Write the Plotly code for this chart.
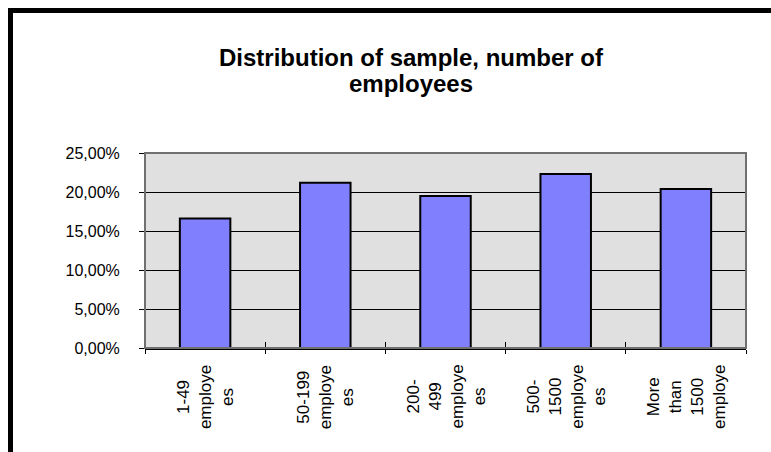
import plotly.graph_objects as go

categories = ["1-49<br>employe<br>es", "50-199<br>employe<br>es", "200-<br>499<br>employe<br>es",
              "500-<br>1500<br>employe<br>es", "More<br>than<br>1500<br>employe"]
shares = [0.166, 0.212, 0.195, 0.223, 0.204]
y_ticks = [0, 0.05, 0.10, 0.15, 0.20, 0.25]
title_lines = ["Distribution of sample, number of", "employees"]

W, H = 771, 452
L, R, T, B = 145, 746, 153, 348

def px(x):
    return (x - L) / (R - L)

def py(y):
    return (B - y) / (B - T)

FONT = "Liberation Sans, Arial"

fig = go.Figure()
fig.add_trace(go.Bar(x=categories, y=shares, width=0.42,
                     marker=dict(color="#8080FF", line=dict(color="black", width=2)),
                     hoverinfo="skip"))
fig.add_trace(go.Scatter(x=categories, y=shares, mode="none", xaxis="x2", yaxis="y",
                         hoverinfo="skip", showlegend=False))

annotations = []
for i, line in enumerate(title_lines):
    annotations.append(dict(text=line, xref="paper", yref="paper", x=px(411), y=py(58 + 26 * i),
                            xanchor="center", yanchor="middle", showarrow=False,
                            font=dict(size=24, family=FONT, color="black", weight="bold")))
for c in categories:
    annotations.append(dict(text=c, xref="x", yref="paper", x=c, y=py(397),
                            xanchor="center", yanchor="middle", showarrow=False,
                            textangle=-90, align="center",
                            font=dict(size=17, family=FONT, color="black")))

fig.update_layout(
    width=W, height=H,
    margin=dict(l=L, r=W - R, t=T, b=H - B),
    paper_bgcolor="white", plot_bgcolor="#E0E0E0",
    showlegend=False,
    separators=", ",
    font=dict(family=FONT, color="black"),
    annotations=annotations,
    xaxis=dict(type="category", range=[-0.5, 4.5], tickson="boundaries", ticks="outside",
               ticklen=4, tickcolor="black", tickwidth=1, showgrid=False,
               showticklabels=False,
               showline=True, linecolor="black", linewidth=1.5),
    xaxis2=dict(type="category", range=[-0.5, 4.5], overlaying="x", anchor="y", side="bottom",
                tickson="boundaries", ticks="inside", ticklen=6, tickcolor="black", tickwidth=1,
                showticklabels=False, showgrid=False, showline=False),
    yaxis=dict(range=[0, 0.25], tickvals=y_ticks, tickformat=".2%", ticks="outside", ticklen=5,
               tickcolor="black", showgrid=True, gridcolor="black", gridwidth=1,
               zeroline=False, showline=False, ticklabelstandoff=16,
               tickfont=dict(size=16, family=FONT, color="black")),
    shapes=[
        dict(type="rect", xref="paper", yref="paper", x0=0, x1=1, y0=0, y1=1,
             line=dict(color="#707070", width=2), layer="above"),
        dict(type="rect", xref="paper", yref="paper", x0=px(8), x1=px(13), y0=py(8), y1=py(H),
             fillcolor="black", line=dict(width=0)),
        dict(type="rect", xref="paper", yref="paper", x0=px(8), x1=px(W), y0=py(8), y1=py(13),
             fillcolor="black", line=dict(width=0)),
    ],
)

fig.write_html("out.html")
